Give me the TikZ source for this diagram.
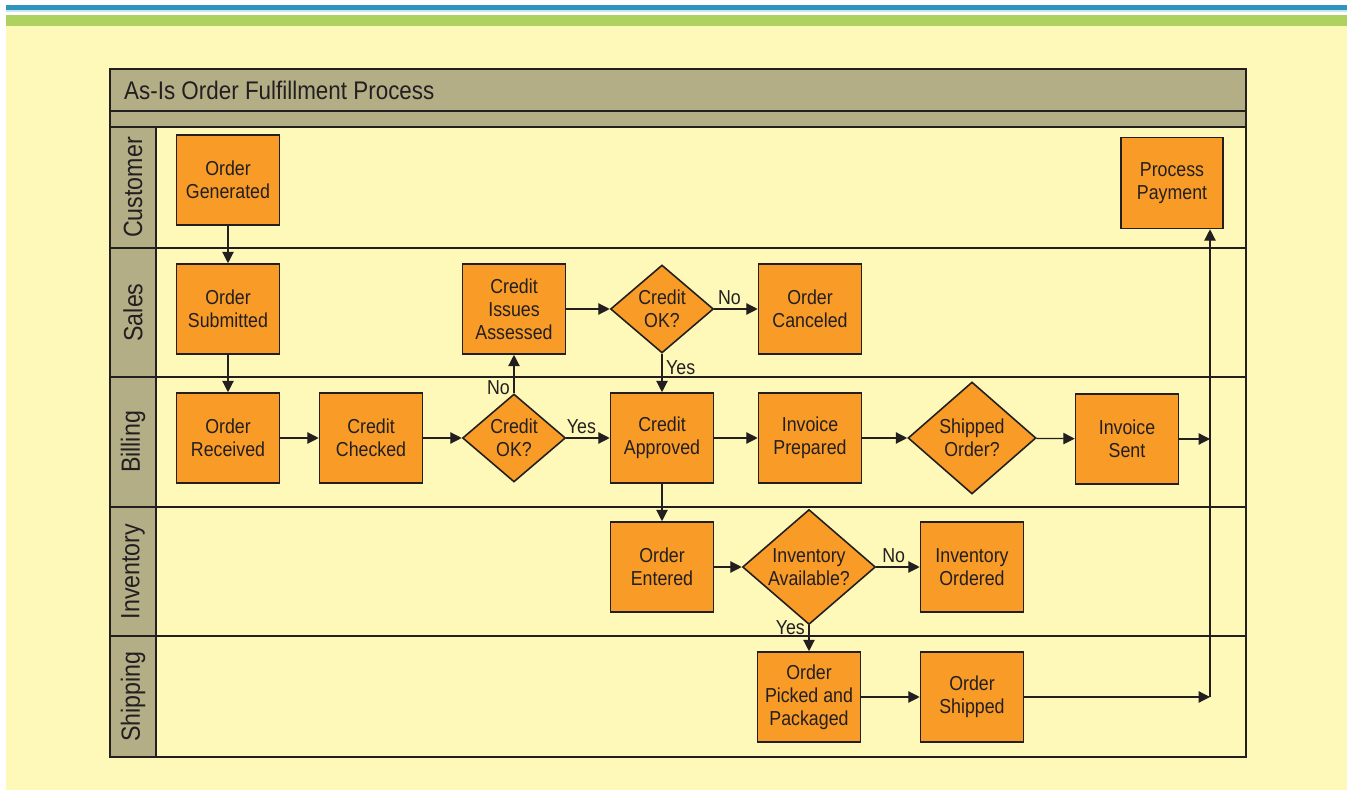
\documentclass[tikz,border=0pt]{standalone}
\usepackage{fontspec}
\setmainfont{Liberation Sans}[FakeStretch=0.88]
\usetikzlibrary{positioning,shapes.geometric,arrows.meta}
\definecolor{paper}{HTML}{FEF8B9}
\definecolor{tan}{HTML}{B4AE87}
\definecolor{boxorange}{HTML}{F89B27}
\definecolor{ink}{HTML}{231F20}
\definecolor{topblue}{HTML}{2D96BD}
\definecolor{topgreen}{HTML}{AFD160}

\begin{document}
\begin{tikzpicture}[x=0.02cm, y=-0.02cm,
		every node/.style={text=ink},
		stepbox/.style={rectangle, draw=ink, fill=boxorange, line width=0.9pt, minimum width=2.06cm, minimum height=1.8cm, inner sep=0pt, align=center, font=\fontsize{11.5}{13}\selectfont},
		decision/.style={diamond, draw=ink, fill=boxorange, line width=0.9pt, shape aspect=1.15, inner sep=0pt, align=center, font=\fontsize{11.5}{13}\selectfont},
		flow/.style={draw=ink, line width=0.7pt, -{Triangle[length=6.5pt,width=6.5pt]}},
		tag/.style={font=\fontsize{11.5}{13}\selectfont, inner sep=2pt},
		lane/.style={rotate=90, font=\fontsize{15}{18}\selectfont}
		]
		\useasboundingbox (0,0) rectangle (1347,790);
		\fill[white] (0,0) rectangle (1347,790);
		\fill[topblue] (6,5) rectangle (1347,10);
		\fill[topblue!25] (6,10) rectangle (1347,12);
		\fill[topgreen] (6,15) rectangle (1347,26);
		\fill[paper] (6,26) rectangle (1347,790);
		
		\fill[tan] (110,69) rectangle (1246,127);
		\fill[tan] (110,127) rectangle (156,757);
		\draw[ink, line width=0.85pt] (110,69) rectangle (1246,757);
		\draw[ink, line width=0.85pt] (110,111) -- (1246,111);
		\draw[ink, line width=0.85pt] (110,127) -- (1246,127);
		\draw[ink, line width=0.85pt] (156,127) -- (156,757);
		\foreach \y in {248,377,507,636}
			\draw[ink, line width=0.85pt] (110,\y) -- (1246,\y);
		\node[anchor=west, font=\fontsize{14.5}{16}\selectfont] (title) at (118,90) {As-Is Order Fulfillment Process};
		\foreach \name/\y in {Customer/187.5, Sales/312.5, Billing/442, Inventory/571.5, Shipping/696.5}
			\node[lane] (lane-\name) at (133,\y) {\name};
		
		\node[stepbox] (gen) at (228,180) {Order\\Generated};
		\node[stepbox] (sub) at (228,309) {Order\\Submitted};
		\node[stepbox] (rec) at (228,438) {Order\\Received};
		\node[stepbox] (chk) at (371,438) {Credit\\Checked};
		\node[decision, minimum width=2.06cm, minimum height=1.76cm] (ok1) at (514,438) {Credit\\OK?};
		\node[stepbox] (iss) at (514,309) {Credit\\Issues\\Assessed};
		\node[decision, minimum width=2.06cm, minimum height=1.76cm] (ok2) at (662,309) {Credit\\OK?};
		\node[stepbox] (can) at (810,309) {Order\\Canceled};
		\node[stepbox] (apr) at (662,438) {Credit\\Approved};
		\node[stepbox] (prep) at (810,438) {Invoice\\Prepared};
		\node[decision, minimum width=2.56cm, minimum height=2.24cm] (shp) at (972,438) {Shipped\\Order?};
		\node[stepbox] (sent) at (1127,439) {Invoice\\Sent};
		\node[stepbox, minimum width=2.04cm, minimum height=1.82cm] (pay) at (1172,183) {Process\\Payment};
		\node[stepbox] (ent) at (662,567) {Order\\Entered};
		\node[decision, minimum width=2.66cm, minimum height=2.3cm] (avl) at (809,567) {Inventory\\Available?};
		\node[stepbox] (ord) at (972,567) {Inventory\\Ordered};
		\node[stepbox] (pick) at (809,697) {Order\\Picked and\\Packaged};
		\node[stepbox] (ship) at (972,697) {Order\\Shipped};
		\coordinate (hub) at (1210,439);
		\coordinate (bend) at (1210,697);
		
		\draw[flow] (gen) -- (sub);
		\draw[flow] (sub) -- (rec);
		\draw[flow] (rec) -- (chk);
		\draw[flow] (chk) -- (ok1);
		\draw[flow] (ok1) -- node[tag, above, pos=0.35] {Yes} (apr);
		\draw[flow] (ok1) -- node[tag, left, pos=0.15] {No} (iss);
		\draw[flow] (iss) -- (ok2);
		\draw[flow] (ok2) -- node[tag, above, pos=0.35] {No} (can);
		\draw[flow] (ok2) -- node[tag, right, pos=0.35] {Yes} (apr);
		\draw[flow] (apr) -- (prep);
		\draw[flow] (prep) -- (shp);
		\draw[flow] (shp) -- (sent);
		\draw[flow] (sent) -- (hub);
		\draw[flow] (apr) -- (ent);
		\draw[flow] (ent) -- (avl);
		\draw[flow] (avl) -- node[tag, above, pos=0.4] {No} (ord);
		\draw[flow] (avl) -- node[tag, left, pos=0.08] {Yes} (pick);
		\draw[flow] (pick) -- (ship);
		\draw[flow] (ship) -- (bend);
		\draw[flow] (bend) -- (pay.south -| bend);
	\end{tikzpicture}
\end{document}
